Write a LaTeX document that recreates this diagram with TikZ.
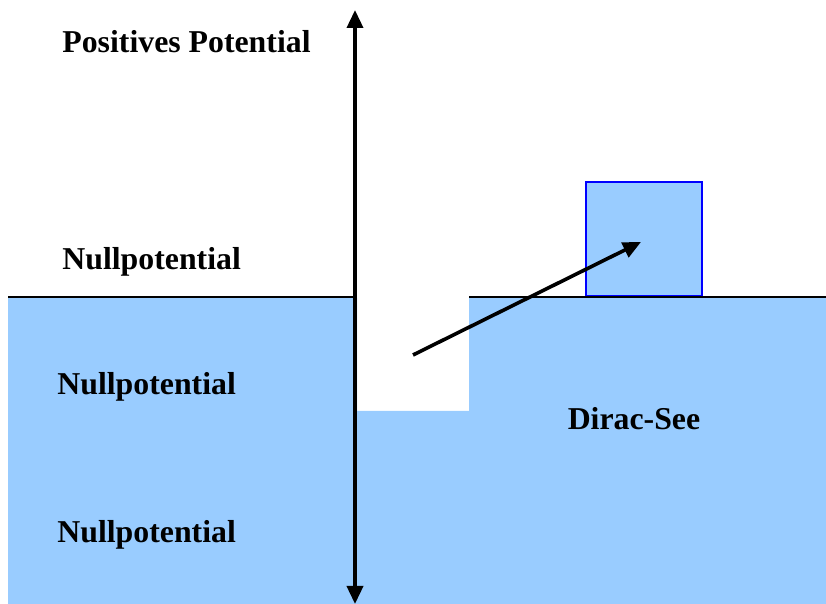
\documentclass[tikz,border=0pt]{standalone}
\usepackage{fontspec}
\setmainfont{Liberation Serif}
\usepackage{tikz}
\usetikzlibrary{arrows.meta, positioning}
\definecolor{seeblue}{HTML}{99CCFF}

\begin{document}
\begin{tikzpicture}[
        x=0.5pt, y=-0.5pt,
        arrow/.style={-{Triangle[length=9pt, width=8pt]}, line width=1.8pt},
        lbl/.style={font=\fontsize{15.9}{18}\selectfont\bfseries, inner sep=0pt, anchor=west}
    ]
        \useasboundingbox (0,0) rectangle (826,604);

        % Dirac-See (Fuellung mit Loch)
        \fill[seeblue] (8,298) -- (357,298) -- (357,411) -- (469,411) -- (469,298)
            -- (826,298) -- (826,604) -- (8,604) -- cycle;

        % angeregtes Teilchen
        \node[draw=blue, line width=0.9pt, fill=seeblue, minimum width=58pt, minimum height=57pt, inner sep=0pt, anchor=south west] (box) at (585,297) {};

        % Nulllinie
        \draw[line width=1.3pt] (8,297) -- (355,297);
        \draw[line width=1.3pt] (469,297) -- (826,297);

        % Achse
        \coordinate (top) at (355,10);
        \coordinate (bottom) at (355,604);
        \coordinate (mid) at (355,300);
        \draw[arrow] (mid) -- (top);
        \draw[arrow] (mid) -- (bottom);

        % Uebergang
        \coordinate (hole) at (413,355);
        \coordinate (up) at (641,242);
        \draw[arrow] (hole) -- (up);

        % Beschriftung
        \node[lbl] (pos) at (62,42) {Positives Potential};
        \node[lbl] (null1) at (62,262) {Nullpotential};
        \node[lbl] (null2) at (57,387) {Nullpotential};
        \node[lbl] (null3) at (57,535) {Nullpotential};
        \node[lbl, anchor=center] (see) at (634,419) {Dirac-See};
    \end{tikzpicture}
\end{document}
